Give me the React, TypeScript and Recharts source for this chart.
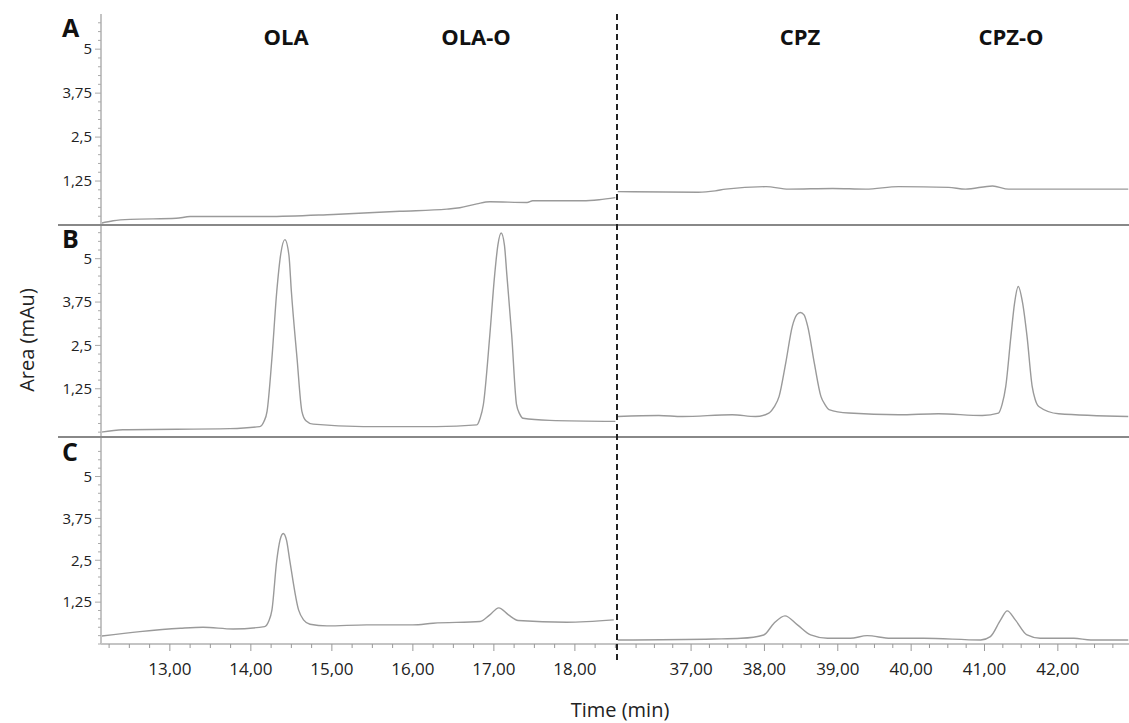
import { LineChart, Line, XAxis, YAxis } from "recharts";

const FONT = '"Open Sans", "DejaVu Sans", sans-serif';

// time (min), absorbance pairs
const traceALeft = [
  [12.15, 0.05], [12.3, 0.12], [12.51, 0.16], [13.08, 0.19], [13.25, 0.24], [14.2, 0.24],
  [15.02, 0.3], [15.84, 0.39], [16.42, 0.45], [16.58, 0.49], [16.79, 0.6], [16.95, 0.66],
  [17.41, 0.64], [17.48, 0.69], [18.1, 0.69], [18.3, 0.72], [18.5, 0.78],
];
const traceARight = [
  [36.0, 0.95], [37.1, 0.93], [37.33, 0.97], [37.47, 1.02], [38.02, 1.09], [38.33, 1.02],
  [38.93, 1.04], [39.38, 1.02], [39.83, 1.09], [40.51, 1.07], [40.74, 1.02], [41.11, 1.11],
  [41.33, 1.02], [42.96, 1.02],
];
const traceBLeft = [
  [12.15, 0.0], [12.42, 0.07], [13.74, 0.1], [14.11, 0.16], [14.16, 0.3], [14.2, 0.6], [14.26, 2.13],
  [14.32, 4.06], [14.37, 5.15], [14.42, 5.55], [14.47, 5.1], [14.5, 4.06], [14.57, 2.13],
  [14.63, 0.6], [14.68, 0.33], [14.77, 0.23], [15.39, 0.16], [16.29, 0.16], [16.79, 0.21],
  [16.83, 0.4], [16.87, 0.79], [16.95, 2.8], [17.01, 4.54], [17.05, 5.4], [17.09, 5.74],
  [17.13, 5.4], [17.16, 4.54], [17.22, 2.8], [17.28, 0.79], [17.32, 0.52], [17.36, 0.4],
  [17.69, 0.34], [18.5, 0.31],
];
const traceBRight = [
  [36.0, 0.45], [36.56, 0.48], [36.88, 0.45], [37.56, 0.5], [37.88, 0.45], [38.06, 0.55],
  [38.13, 0.72], [38.2, 1.03], [38.29, 1.99], [38.38, 3.05], [38.44, 3.38], [38.49, 3.45],
  [38.54, 3.38], [38.59, 3.05], [38.68, 1.99], [38.77, 1.03], [38.83, 0.78], [38.88, 0.65],
  [39.15, 0.55], [39.83, 0.5], [40.37, 0.53], [40.97, 0.48], [41.19, 0.55], [41.24, 0.8],
  [41.29, 1.32], [41.36, 2.76], [41.41, 3.72], [41.46, 4.2], [41.52, 3.72], [41.58, 2.76],
  [41.65, 1.32], [41.69, 0.95], [41.74, 0.74], [42.01, 0.53], [42.96, 0.45],
];
const traceCLeft = [
  [12.16, 0.24], [12.63, 0.37], [13.13, 0.47], [13.41, 0.5], [13.78, 0.45], [14.17, 0.52],
  [14.22, 0.68], [14.26, 1.01], [14.32, 2.5], [14.36, 3.1], [14.4, 3.3], [14.44, 3.1],
  [14.48, 2.5], [14.59, 1.01], [14.65, 0.72], [14.73, 0.59], [14.94, 0.54], [15.43, 0.57],
  [16.0, 0.57], [16.25, 0.62], [16.83, 0.67], [16.95, 0.87], [17.06, 1.08], [17.18, 0.87],
  [17.3, 0.7], [17.9, 0.65], [18.48, 0.72],
];
const traceCRight = [
  [36.0, 0.12], [37.31, 0.15], [37.68, 0.17], [37.99, 0.27], [38.13, 0.62], [38.28, 0.84],
  [38.45, 0.57], [38.63, 0.27], [38.86, 0.17], [39.17, 0.17], [39.4, 0.25], [39.72, 0.17],
  [40.17, 0.17], [40.95, 0.12], [41.08, 0.22], [41.22, 0.72], [41.31, 0.99], [41.42, 0.72],
  [41.58, 0.27], [41.76, 0.17], [42.22, 0.17], [42.45, 0.12], [42.96, 0.12],
];

const yTicks = [
  0, 0.25, 0.5, 0.75, 1, 1.25, 1.5, 1.75, 2, 2.25, 2.5, 2.75, 3, 3.25, 3.5, 3.75, 4,
  4.25, 4.5, 4.75, 5, 5.25, 5.5, 5.75,
];
const yMajor = [1.25, 2.5, 3.75, 5];
const yMajorLabels = ["1,25", "2,5", "3,75", "5"];

const xTicksLeft = [
  12.25, 12.5, 12.75, 13, 13.25, 13.5, 13.75, 14, 14.25, 14.5, 14.75, 15, 15.25, 15.5,
  15.75, 16, 16.25, 16.5, 16.75, 17, 17.25, 17.5, 17.75, 18, 18.25, 18.5,
];
const xMajorLeft = [13, 14, 15, 16, 17, 18];
const xLabelsLeft = ["13,00", "14,00", "15,00", "16,00", "17,00", "18,00"];
const xTicksRight = [
  36.25, 36.5, 36.75, 37, 37.25, 37.5, 37.75, 38, 38.25, 38.5, 38.75, 39, 39.25, 39.5,
  39.75, 40, 40.25, 40.5, 40.75, 41, 41.25, 41.5, 41.75, 42, 42.25, 42.5, 42.75,
];
const xMajorRight = [37, 38, 39, 40, 41, 42];
const xLabelsRight = ["37,00", "38,00", "39,00", "40,00", "41,00", "42,00"];

const compounds = ["OLA", "OLA-O", "CPZ", "CPZ-O"];
const panelNames = ["A", "B", "C"];

const LEFT_DOMAIN: [number, number] = [12.15, 18.52];
const RIGHT_DOMAIN: [number, number] = [35.99, 42.97];

const AXIS = "#c4c4c4";
const TRACE = "#9a9a9a";

const toRows = (pts: number[][]) => pts.map(([t, v]) => ({ t, v }));

function YTick({ x, y, payload }: any) {
  const i = yMajor.indexOf(payload.value);
  const major = i >= 0;
  return (
    <g>
      <line x1={x - (major ? 6 : 3)} x2={x} y1={y} y2={y} stroke="#aaa" strokeWidth={1} />
      {major && (
        <text x={x - 9} y={y} dy="0.35em" textAnchor="end" fontSize={15} fill="#222" fontFamily={FONT}>
          {yMajorLabels[i]}
        </text>
      )}
    </g>
  );
}

function XTick({ x, y, payload, majors, labels }: any) {
  const i = majors.indexOf(payload.value);
  const major = i >= 0;
  return (
    <g>
      <line x1={x} x2={x} y1={y} y2={y + (major ? 7 : 4)} stroke="#999" strokeWidth={1} />
      {major && (
        <text x={x} y={y + 31} textAnchor="middle" fontSize={17} fill="#222" fontFamily={FONT}>
          {labels[i]}
        </text>
      )}
    </g>
  );
}

function Segment({
  data, domain, yDomain, width, height, withY, withX, xTicks, majors, labels,
}: any) {
  const axisH = withX ? 46 : 0;
  return (
    <LineChart width={width} height={height + axisH} data={toRows(data)} margin={{ top: 0, right: 0, bottom: 0, left: 0 }}>
      <XAxis
        type="number"
        dataKey="t"
        domain={domain}
        allowDataOverflow
        hide={!withX}
        height={axisH}
        ticks={xTicks}
        interval={0}
        tickSize={0}
        tickMargin={0}
        tickLine={false}
        axisLine={{ stroke: AXIS, strokeWidth: 2 }}
        tick={(p: any) => <XTick {...p} majors={majors} labels={labels} />}
      />
      <YAxis
        type="number"
        domain={yDomain}
        allowDataOverflow
        hide={!withY}
        width={61}
        ticks={yTicks}
        interval={0}
        tickSize={0}
        tickMargin={0}
        tickLine={false}
        axisLine={{ stroke: AXIS, strokeWidth: 2 }}
        tick={(p: any) => <YTick {...p} />}
      />
      <Line type="monotone" dataKey="v" stroke={TRACE} strokeWidth={1.4} dot={false} isAnimationActive={false} />
    </LineChart>
  );
}

const panels = [
  { top: 14, h: 211, yDomain: [0, 6], left: traceALeft, right: traceARight, x: false },
  { top: 224, h: 213, yDomain: [-0.14, 6], left: traceBLeft, right: traceBRight, x: false },
  { top: 437, h: 207, yDomain: [0, 6.18], left: traceCLeft, right: traceCRight, x: true },
];

export default function App() {
  return (
    <div style={{ position: "absolute", left: 0, top: 0, width: 1129, height: 723, background: "#fff", overflow: "hidden" }}>
      {panels.map((p, k) => (
        <div key={k}>
          <div style={{ position: "absolute", left: 40, top: p.top }}>
            <Segment
              data={p.left} domain={LEFT_DOMAIN} yDomain={p.yDomain} width={577} height={p.h}
              withY withX={p.x} xTicks={xTicksLeft} majors={xMajorLeft} labels={xLabelsLeft}
            />
          </div>
          <div style={{ position: "absolute", left: 617, top: p.top }}>
            <Segment
              data={p.right} domain={RIGHT_DOMAIN} yDomain={p.yDomain} width={512} height={p.h}
              withY={false} withX={p.x} xTicks={xTicksRight} majors={xMajorRight} labels={xLabelsRight}
            />
          </div>
        </div>
      ))}
      <svg width={1129} height={723} style={{ position: "absolute", left: 0, top: 0, pointerEvents: "none" }}>
        <line x1={58} x2={1129} y1={225} y2={225} stroke="#888" strokeWidth={2} />
        <line x1={58} x2={1129} y1={437} y2={437} stroke="#888" strokeWidth={2} />
        <line x1={617} x2={617} y1={14} y2={662} stroke="#222" strokeWidth={2} strokeDasharray="6 4" />
        {panelNames.map((n, i) => (
          <text key={n} x={62} y={[37, 248, 461][i]} fontSize={25} fontWeight={700} fill="#111" fontFamily={FONT}>
            {n}
          </text>
        ))}
        {compounds.map((c, i) => (
          <text key={c} x={[286, 476, 800, 1011][i]} y={45} textAnchor="middle" fontSize={22} fontWeight={700} fill="#111" fontFamily={FONT}>
            {c}
          </text>
        ))}
        <text x={620} y={717} textAnchor="middle" fontSize={20} fill="#222" fontFamily={FONT}>
          Time (min)
        </text>
        <text x={34} y={340} textAnchor="middle" fontSize={20} fill="#222" fontFamily={FONT} transform="rotate(-90 34 340)">
          Area (mAu)
        </text>
      </svg>
    </div>
  );
}
